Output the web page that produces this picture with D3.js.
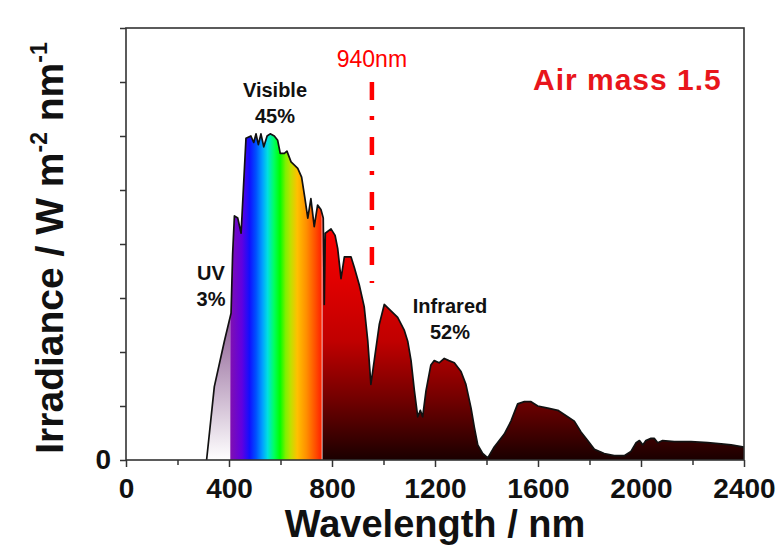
<!DOCTYPE html>
<meta charset="utf-8">
<style>
body { margin: 0; background: #fff; }
text { font-family: "Liberation Sans", Arial, sans-serif; fill: #111; }
.axis text { font-weight: bold; font-size: 28px; fill: #111; }
.axis line { stroke: #333; stroke-width: 1.5px; }
.axis path { display: none; }
.band-label { font-weight: bold; font-size: 20px; text-anchor: middle; }
</style>
<body>
<svg width="780" height="547"></svg>
<script src="https://d3js.org/d3.v7.min.js"></script>
<script>

// AM1.5 spectrum
var wavelength = [313, 343, 382, 408, 414, 421, 434, 447, 466, 485, 496, 505, 514, 524, 535, 548, 560, 576, 589, 599,
  615, 625, 641, 667, 682, 695, 706, 718, 731, 744, 757, 766, 770, 774, 796, 812, 822, 835, 848, 861,
  874, 887, 906, 925, 939, 951, 964, 984, 1003, 1029, 1055, 1081, 1094, 1107, 1120, 1133, 1143, 1152, 1165, 1184,
  1197, 1216, 1236, 1254, 1275, 1301, 1320, 1340, 1353, 1366, 1385, 1405, 1430, 1469, 1495, 1521, 1547, 1573, 1599, 1638,
  1677, 1715, 1741, 1767, 1793, 1819, 1857, 1896, 1935, 1961, 1981, 1994, 2007, 2019, 2039, 2052, 2065, 2084, 2129, 2194,
  2259, 2311, 2350, 2400];
var irradiance = [0, 0.34, 0.55, 0.68, 0.95, 1.13, 1.12, 1.05, 1.49, 1.50, 1.47, 1.51, 1.46, 1.51, 1.45, 1.50, 1.51, 1.50, 1.48, 1.42,
  1.42, 1.43, 1.38, 1.35, 1.31, 1.21, 1.12, 1.21, 1.08, 1.18, 1.16, 1.12, 0.72, 1.05, 1.07, 1.04, 0.98, 0.84, 0.94, 0.94,
  0.94, 0.89, 0.81, 0.71, 0.55, 0.35, 0.46, 0.63, 0.72, 0.69, 0.66, 0.60, 0.55, 0.46, 0.32, 0.20, 0.23, 0.20, 0.32, 0.44,
  0.46, 0.45, 0.47, 0.46, 0.45, 0.41, 0.35, 0.24, 0.15, 0.07, 0.03, 0.01, 0.06, 0.12, 0.18, 0.26, 0.27, 0.27, 0.25, 0.24,
  0.23, 0.20, 0.18, 0.13, 0.09, 0.05, 0.03, 0.02, 0.02, 0.04, 0.08, 0.09, 0.07, 0.09, 0.10, 0.10, 0.08, 0.09, 0.085, 0.085,
  0.08, 0.075, 0.07, 0.06];

var xTickValues = [0, 400, 800, 1200, 1600, 2000, 2400];
var xMinorValues = [200, 600, 1000, 1400, 1800, 2200];
var yTickValues = [0, 0.25, 0.5, 0.75, 1, 1.25, 1.5, 1.75, 2];

var bandNames = ["UV", "Visible", "Infrared"];
var bandShares = ["3%", "45%", "52%"];
var bandFrom = [300, 405, 763];
var bandTo = [405, 760, 2400];

// rainbow stops for the visible band (nm, colour)
var rainbowNm = [405, 450, 480, 505, 530, 550, 575, 598, 620, 640, 665, 700, 735, 760];
var rainbowCol = ["#8010b0", "#6000e0", "#1010ff", "#0050ff", "#00a0ff", "#00e0e0", "#00ff60", "#00ff00",
  "#80f000", "#c0e000", "#ffc000", "#ff9000", "#ff5000", "#ff2000"];

var markerLabel = "940nm", markerNm = 955;

var data = wavelength.map(function(w, i) { return {w: w, v: irradiance[i]}; });

var svg = d3.select("svg");
svg.append("rect").attr("width", 780).attr("height", 547).attr("fill", "#fff");

var x = d3.scaleLinear().domain([0, 2400]).range([126, 744]);
var y = d3.scaleLinear().domain([0, 2]).range([460, 28]);

var defs = svg.append("defs");

var uvGrad = defs.append("linearGradient").attr("id", "uv")
  .attr("gradientUnits", "userSpaceOnUse")
  .attr("x1", 0).attr("x2", 0).attr("y1", y(0.75)).attr("y2", y(0));
uvGrad.append("stop").attr("offset", 0).attr("stop-color", "#7e4a86");
uvGrad.append("stop").attr("offset", 1).attr("stop-color", "#ffffff");

var visGrad = defs.append("linearGradient").attr("id", "vis")
  .attr("gradientUnits", "userSpaceOnUse")
  .attr("x1", x(405)).attr("x2", x(760)).attr("y1", 0).attr("y2", 0);
rainbowNm.forEach(function(n, i) {
  visGrad.append("stop").attr("offset", (n - 405) / (760 - 405)).attr("stop-color", rainbowCol[i]);
});

var irGrad = defs.append("linearGradient").attr("id", "ir")
  .attr("gradientUnits", "userSpaceOnUse")
  .attr("x1", 0).attr("x2", 0).attr("y1", y(1.1)).attr("y2", y(0));
irGrad.append("stop").attr("offset", 0).attr("stop-color", "#ff0000");
irGrad.append("stop").attr("offset", 0.5).attr("stop-color", "#c00000");
irGrad.append("stop").attr("offset", 0.75).attr("stop-color", "#700000");
irGrad.append("stop").attr("offset", 1).attr("stop-color", "#1a0000");

var fills = ["url(#uv)", "url(#vis)", "url(#ir)"];
bandNames.forEach(function(b, i) {
  defs.append("clipPath").attr("id", "clip" + i)
    .append("rect")
    .attr("x", x(bandFrom[i])).attr("width", x(bandTo[i]) - x(bandFrom[i]))
    .attr("y", y(2)).attr("height", y(0) - y(2));
});

var area = d3.area().x(function(d) { return x(d.w); }).y0(y(0)).y1(function(d) { return y(d.v); });
var line = d3.line().x(function(d) { return x(d.w); }).y(function(d) { return y(d.v); });

bandNames.forEach(function(b, i) {
  svg.append("path").datum(data)
    .attr("d", area)
    .attr("fill", fills[i])
    .attr("clip-path", "url(#clip" + i + ")");
});

svg.append("path").datum(data)
  .attr("d", line)
  .attr("fill", "none")
  .attr("stroke", "#111")
  .attr("stroke-width", 1.7)
  .attr("stroke-linejoin", "round");

// axes
svg.append("g").attr("class", "axis")
  .attr("transform", "translate(0," + y(0) + ")")
  .call(d3.axisBottom(x).tickValues(xTickValues).tickSize(7).tickPadding(11).tickFormat(d3.format("d")));
svg.append("g").attr("class", "axis")
  .attr("transform", "translate(0," + y(0) + ")")
  .call(d3.axisBottom(x).tickValues(xMinorValues).tickSize(5).tickFormat(""));
svg.append("g").attr("class", "axis")
  .attr("transform", "translate(" + x(0) + ",0)")
  .call(d3.axisLeft(y).tickValues(yTickValues).tickSize(6).tickPadding(9)
    .tickFormat(function(d) { return d === 0 ? "0" : ""; }));

svg.append("rect")
  .attr("x", x(0)).attr("y", y(2))
  .attr("width", x(2400) - x(0)).attr("height", y(0) - y(2))
  .attr("fill", "none").attr("stroke", "#333").attr("stroke-width", 1.6);

// axis titles
svg.append("text")
  .attr("x", (x(0) + x(2400)) / 2).attr("y", 537)
  .attr("text-anchor", "middle")
  .style("font-weight", "bold").style("font-size", "38px")
  .text("Wavelength / nm");

var yt = svg.append("text")
  .attr("transform", "translate(63," + ((y(0) + y(2)) / 2 + 4) + ") rotate(-90)")
  .attr("text-anchor", "middle")
  .style("font-weight", "bold").style("font-size", "39px");
yt.append("tspan").text("Irradiance / W m");
yt.append("tspan").attr("dy", -16).style("font-size", "23px").text("-2");
yt.append("tspan").attr("dy", 16).text(" nm");
yt.append("tspan").attr("dy", -16).style("font-size", "23px").text("-1");

// band labels
var labelX = [211, 275, 450];
var labelY = [280, 97, 313];
bandNames.forEach(function(b, i) {
  svg.append("text").attr("class", "band-label").attr("x", labelX[i]).attr("y", labelY[i]).text(b);
  svg.append("text").attr("class", "band-label").attr("x", labelX[i]).attr("y", labelY[i] + 26).text(bandShares[i]);
});

// 940 nm marker
svg.append("line")
  .attr("x1", x(markerNm)).attr("x2", x(markerNm))
  .attr("y1", y(1.75)).attr("y2", y(0.82))
  .attr("stroke", "#ff0000").attr("stroke-width", 4.5)
  .attr("stroke-dasharray", "18,16,4,17");
svg.append("text")
  .attr("x", x(markerNm)).attr("y", 67)
  .attr("text-anchor", "middle")
  .style("font-size", "23px").style("fill", "#ff0000")
  .text(markerLabel);

svg.append("text")
  .attr("x", 533).attr("y", 90)
  .style("font-weight", "bold").style("font-size", "30px").style("fill", "#e8151b")
  .style("letter-spacing", "1px")
  .text("Air mass 1.5");

</script>
</body>
